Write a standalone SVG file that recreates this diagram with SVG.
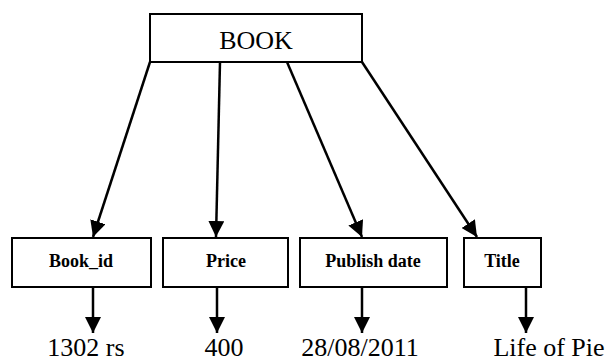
<svg xmlns="http://www.w3.org/2000/svg" width="607" height="362" viewBox="0 0 607 362">
<style>
.box{fill:#fff;stroke:#000;stroke-width:2}
text{font-family:'Liberation Serif','Times New Roman','DejaVu Serif',serif;text-anchor:middle;fill:#000}
.lbl{font-weight:bold;font-size:18px}
.top{font-size:26px}
.val{font-size:26px}
.con{stroke:#000;stroke-width:2.5;fill:none;marker-end:url(#ah)}
</style>
<defs>
<marker id="ah" markerUnits="userSpaceOnUse" markerWidth="16" markerHeight="16" viewBox="0 0 16 16" refX="16" refY="8" orient="auto">
<path d="M0,0 L16,8 L0,16 Z" fill="#000"/>
</marker>
</defs>
<rect width="607" height="362" fill="#fff"/>
<g id="book"><rect class="box" x="150" y="14" width="212" height="48"/><text class="top" x="256" y="49">BOOK</text></g>
<g id="connectors">
<line class="con" x1="150" y1="62" x2="93" y2="237"/>
<line class="con" x1="220" y1="62" x2="216" y2="237"/>
<line class="con" x1="287" y1="62" x2="362" y2="237"/>
<line class="con" x1="362" y1="62" x2="477" y2="237"/>
<line class="con" x1="93" y1="287" x2="93" y2="333"/>
<line class="con" x1="217" y1="287" x2="217" y2="333"/>
<line class="con" x1="362" y1="287" x2="362" y2="333"/>
<line class="con" x1="526" y1="287" x2="526" y2="333"/>
</g>
<g id="book_id"><rect class="box" x="12" y="238" width="139" height="49"/><text class="lbl" x="81" y="267">Book_id</text></g>
<g id="price"><rect class="box" x="163" y="238" width="125" height="49"/><text class="lbl" x="226" y="267">Price</text></g>
<g id="publish"><rect class="box" x="300" y="238" width="147" height="49"/><text class="lbl" x="373" y="267">Publish date</text></g>
<g id="title"><rect class="box" x="464" y="238" width="77" height="49"/><text class="lbl" x="502" y="267">Title</text></g>
<g id="v1"><text class="val" x="86" y="356">1302 rs</text></g>
<g id="v2"><text class="val" x="224" y="356">400</text></g>
<g id="v3"><text class="val" x="360" y="356">28/08/2011</text></g>
<g id="v4"><text class="val" x="549" y="356">Life of Pie</text></g>
</svg>
